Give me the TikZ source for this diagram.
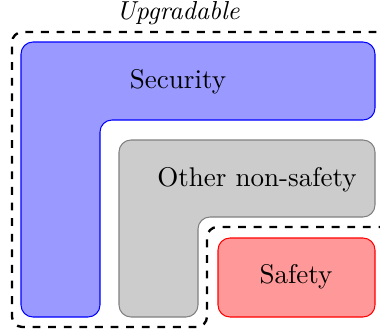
\documentclass[tikz,border=0pt]{standalone}
\begin{document}
\begin{tikzpicture}[x=0.3846pt,y=-0.3846pt,
  region/.style={draw=#1, fill=#1!40, rounded corners=4.6pt},
  fence/.style={draw=black, dashed, line width=0.9pt, rounded corners=4pt},
  txt/.style={anchor=base, inner sep=0pt, font=\fontsize{10.4}{12}\selectfont}]
\useasboundingbox (0,0) rectangle (380,329);

% L-shaped security area
\draw[region=blue] (21,42) -- (375,42) -- (375,120) -- (100,120)
  -- (100,317) -- (21,317) -- cycle;
% L-shaped area for the other non-safety functions
\draw[region=gray] (119,140) -- (375,140) -- (375,217) -- (198,217)
  -- (198,317) -- (119,317) -- cycle;
% safety block
\draw[region=red] (218,238) rectangle (375,317);

% boundary of the upgradable part
\draw[fence] (392,32) -- (12,32) -- (12,327) -- (207,327)
  -- (207,227) -- (392,227);

\node[anchor=base, inner sep=0pt, font=\itshape] (upg) at (178,20) {Upgradable};
\node[txt] (sec) at (178,88) {Security};
\node[txt] (oth) at (257,186) {Other non-safety};
\node[txt] (saf) at (296,283) {Safety};
\end{tikzpicture}
\end{document}
